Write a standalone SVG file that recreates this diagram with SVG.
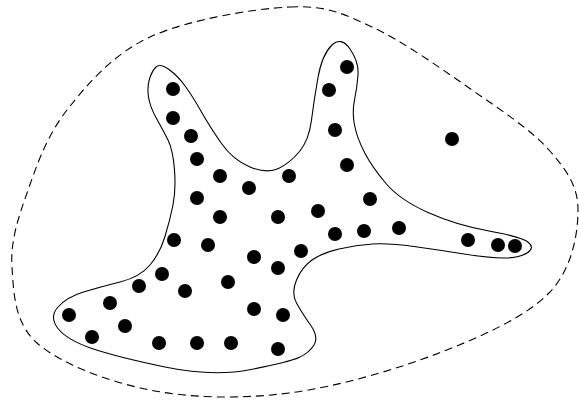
<svg xmlns="http://www.w3.org/2000/svg" width="579" height="402" viewBox="0 0 579 402">
<style>
.outer{fill:none;stroke:#000;stroke-width:1.1;stroke-dasharray:8,5}
.blob{fill:none;stroke:#000;stroke-width:1.1}
.pt{fill:#000}
</style>
<rect width="579" height="402" fill="#fff"/>
<g id="outer-region">
<path class="outer" d="M290,7 C327,5.3 341.7,13.2 372,27 C402.3,40.8 442.5,69.5 472,90 C501.5,110.5 531.3,130 549,150 C566.7,170 578,186.2 578,210 C578,233.8 572.2,269.2 549,293 C525.8,316.8 482.3,336.3 439,353 C395.7,369.7 337.2,386.8 289,393 C240.8,399.2 192,398.3 150,390 C108,381.7 60,363.5 37,343 C14,322.5 13.7,292 12,267 C10.3,242 17.8,219.2 27,193 C36.2,166.8 46.5,136 67,110 C87.5,84 112.8,54.2 150,37 C187.2,19.8 253,8.7 290,7 Z"/>
</g>
<g id="cluster">
<path class="blob" d="M156,67 Q160,63 169,69.5 Q178,76 185.5,86.5 Q193,97 201.5,112 Q210,127 221.5,143.5 Q233,160 250,167 Q267,174 278.5,168.5 Q290,163 299.5,151.5 Q309,140 311.5,120 Q314,100 318,77.5 Q322,55 331.5,45.5 Q341,36 350,49 Q359,62 358,75 Q357,88 354.5,100 Q352,112 354.5,125 Q357,138 364.5,152.5 Q372,167 386,183.5 Q400,200 428,212.5 Q456,225 489,231 Q522,237 528.5,242.5 Q535,248 527,253 Q519,258 504,258 Q489,258 464,254 Q439,250 414,246.5 Q389,243 372.5,244 Q356,245 339,249 Q322,253 312,260 Q302,267 296.5,280 Q291,293 296.5,303 Q302,313 310.5,325 Q319,337 314,345 Q309,353 299,357.5 Q289,362 251,369.5 Q213,377 165,367 Q117,357 92,348.5 Q67,340 58,328.5 Q49,317 58,307 Q67,297 83.5,292 Q100,287 120,282 Q140,277 150,265 Q160,253 165,236.5 Q170,220 173,205 Q176,190 174.5,170 Q173,150 168,140 Q163,130 156.5,118.5 Q150,107 148.5,97 Q147,87 149.5,79 Q152,71 156,67 Z"/>
</g>
<g id="points">
<circle class="pt" cx="173" cy="89" r="7"/>
<circle class="pt" cx="173" cy="118" r="7"/>
<circle class="pt" cx="191" cy="136" r="7"/>
<circle class="pt" cx="197" cy="159" r="7"/>
<circle class="pt" cx="220" cy="176" r="7"/>
<circle class="pt" cx="249" cy="188" r="7"/>
<circle class="pt" cx="289" cy="176" r="7"/>
<circle class="pt" cx="347" cy="67" r="7"/>
<circle class="pt" cx="329" cy="90" r="7"/>
<circle class="pt" cx="335" cy="130" r="7"/>
<circle class="pt" cx="347" cy="165" r="7"/>
<circle class="pt" cx="452" cy="139" r="7"/>
<circle class="pt" cx="197" cy="198" r="7"/>
<circle class="pt" cx="220" cy="217" r="7"/>
<circle class="pt" cx="278" cy="217" r="7"/>
<circle class="pt" cx="318" cy="211" r="7"/>
<circle class="pt" cx="370" cy="199" r="7"/>
<circle class="pt" cx="174" cy="240" r="7"/>
<circle class="pt" cx="208" cy="245" r="7"/>
<circle class="pt" cx="254" cy="257" r="7"/>
<circle class="pt" cx="301" cy="251" r="7"/>
<circle class="pt" cx="335" cy="234" r="7"/>
<circle class="pt" cx="364" cy="231" r="7"/>
<circle class="pt" cx="399" cy="228" r="7"/>
<circle class="pt" cx="468" cy="240" r="7"/>
<circle class="pt" cx="498" cy="245" r="7"/>
<circle class="pt" cx="515" cy="246" r="7"/>
<circle class="pt" cx="162" cy="274" r="7"/>
<circle class="pt" cx="139" cy="286" r="7"/>
<circle class="pt" cx="185" cy="291" r="7"/>
<circle class="pt" cx="228" cy="282" r="7"/>
<circle class="pt" cx="278" cy="268" r="7"/>
<circle class="pt" cx="110" cy="303" r="7"/>
<circle class="pt" cx="69" cy="315" r="7"/>
<circle class="pt" cx="125" cy="326" r="7"/>
<circle class="pt" cx="92" cy="337" r="7"/>
<circle class="pt" cx="159" cy="343" r="7"/>
<circle class="pt" cx="197" cy="343" r="7"/>
<circle class="pt" cx="231" cy="343" r="7"/>
<circle class="pt" cx="278" cy="349" r="7"/>
<circle class="pt" cx="254" cy="309" r="7"/>
<circle class="pt" cx="283" cy="315" r="7"/>
</g>
</svg>
